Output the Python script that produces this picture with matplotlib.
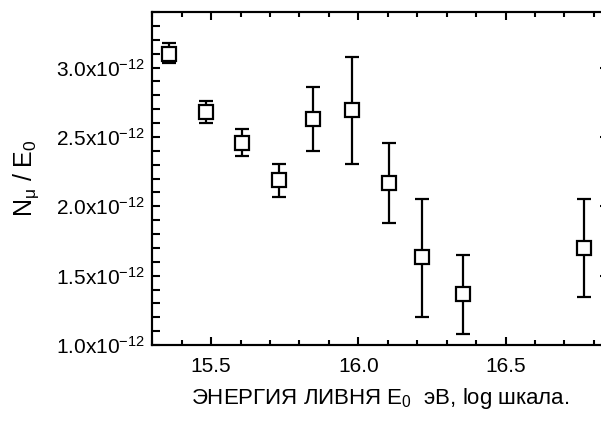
import matplotlib
matplotlib.use("Agg")
import matplotlib.pyplot as plt
from matplotlib.ticker import MultipleLocator, FixedLocator

plt.rcParams['font.family'] = ['Liberation Sans', 'DejaVu Sans']
plt.rcParams['mathtext.fontset'] = 'custom'
plt.rcParams['mathtext.rm'] = 'Liberation Sans'
plt.rcParams['mathtext.it'] = 'Liberation Sans:italic'

# log10 of shower energy, eV
log_e = [15.357, 15.483, 15.606, 15.731, 15.847, 15.977, 16.104, 16.217, 16.356, 16.767]
# N_mu / E_0, units of 1e-12
ratio = [3.10, 2.676, 2.455, 2.188, 2.626, 2.693, 2.169, 1.633, 1.364, 1.70]
err_hi = [3.176, 2.755, 2.557, 2.307, 2.859, 3.079, 2.457, 2.055, 1.652, 2.055]
err_lo = [3.03, 2.60, 2.36, 2.069, 2.398, 2.307, 1.879, 1.205, 1.076, 1.343]

y_ticks = [1.0, 1.5, 2.0, 2.5, 3.0]
y_labels = ['%.1fx10$^{-12}$' % v for v in y_ticks]
x_ticks = [15.5, 16.0, 16.5]

yerr = [[r - lo for r, lo in zip(ratio, err_lo)],
        [hi - r for r, hi in zip(ratio, err_hi)]]

fig = plt.figure(figsize=(6.01, 4.26), dpi=100)
W, H = 601, 426
left, right, top, bottom = 152.3, 608, 12, 345
ax = fig.add_axes([left / W, 1 - bottom / H, (right - left) / W, (bottom - top) / H])

ax.errorbar(log_e, ratio, yerr=yerr, fmt='s', color='black', mfc='white', mec='black',
            ms=9.8, mew=1.6, elinewidth=1.6, capsize=4.7, capthick=1.6, zorder=3)

ax.set_xlim(15.3, 16.848)
ax.set_ylim(1.0, 3.4)

ax.set_xticks(x_ticks)
ax.set_xticklabels(['%.1f' % v for v in x_ticks])
ax.xaxis.set_minor_locator(MultipleLocator(0.1))
ax.set_yticks(y_ticks)
ax.set_yticklabels(y_labels)
ax.yaxis.set_minor_locator(MultipleLocator(0.1))

for s in ax.spines.values():
    s.set_linewidth(1.5)

ax.tick_params(axis='x', which='both', direction='in', top=True, width=1.5, labelsize=15, pad=9)
ax.tick_params(axis='x', which='major', length=6)
ax.tick_params(axis='x', which='minor', length=3.5)
ax.tick_params(axis='y', which='both', direction='in', left=True, right=False, width=1.5,
               length=6, labelsize=15, pad=5)

# right axis: major ticks only
ax2 = ax.twinx()
ax2.set_ylim(ax.get_ylim())
ax2.yaxis.set_major_locator(FixedLocator(y_ticks))
ax2.tick_params(axis='y', direction='in', width=1.5, length=6, labelright=False)
for s in ax2.spines.values():
    s.set_linewidth(1.5)

ax.set_ylabel('N$_{\\mathrm{\u03bc}}$ / E$_{\\mathrm{0}}$', fontsize=18, labelpad=11)
ax.set_xlabel('\u042d\u041d\u0415\u0420\u0413\u0418\u042f \u041b\u0418\u0412\u041d\u042f E$_{\\mathrm{0}}$  '
              '\u044d\u0412, log \u0448\u043a\u0430\u043b\u0430.', fontsize=16, labelpad=7)

fig.savefig('out.png', dpi=100)
